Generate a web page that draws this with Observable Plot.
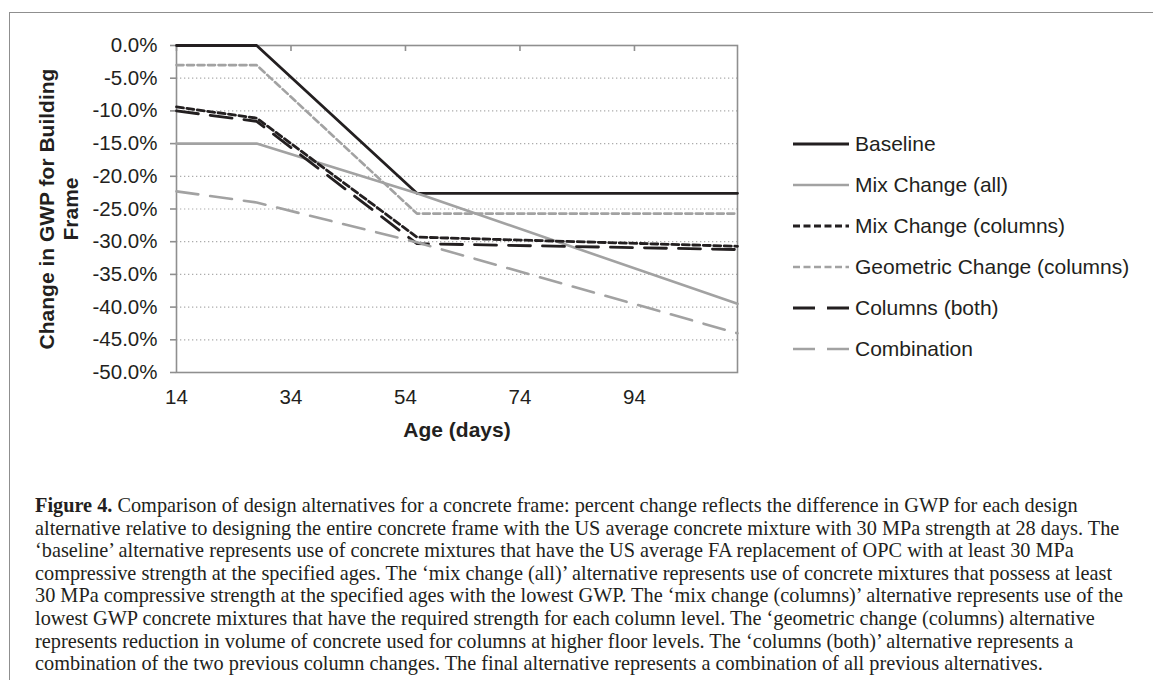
<!DOCTYPE html>
<html>
<head>
<meta charset="utf-8">
<script src="https://cdn.jsdelivr.net/npm/d3@7"></script>
<script src="https://cdn.jsdelivr.net/npm/@observablehq/plot@0.6"></script>
<style>
  html, body { margin: 0; padding: 0; background: #fff; }
  #page { position: relative; width: 1153px; height: 680px; overflow: hidden; background: #fff; }
  #frame { position: absolute; left: 9px; top: 12px; width: 1160px; height: 700px; border-top: 1.5px solid #8f8f8f; border-left: 1.5px solid #8f8f8f; }
  #chart { position: absolute; left: 0; top: 0; }
  #legend { position: absolute; left: 0; top: 0; }
  #caption { position: absolute; left: 35px; top: 494px; font-family: "Liberation Serif", "Times New Roman", serif; font-size: 20.3px; line-height: 22.6px; color: #231f20; white-space: nowrap; }
  #caption b { font-weight: bold; }
</style>
</head>
<body>
<div id="page">
  <div id="frame"></div>
  <div id="chart"></div>
  <svg id="legend" width="1153" height="420"></svg>
  <div id="caption"></div>
</div>
<script>
// ---- data ----
const days = [14, 28, 56, 112];
const seriesNames = ["Baseline", "Mix Change (all)", "Mix Change (columns)", "Geometric Change (columns)", "Columns (both)", "Combination"];
const baseline     = [0, 0, -22.6, -22.6];
const mixAll       = [-15.0, -15.0, -22.6, -39.5];
const mixColumns   = [-9.4, -11.1, -29.3, -30.7];
const geometric    = [-3.0, -3.0, -25.7, -25.7];
const columnsBoth  = [-10.0, -11.6, -30.3, -31.2];
const combination  = [-22.3, -24.0, -30.1, -44.0];
const xTicks = [14, 34, 54, 74, 94];
const yTicks = [0, -5, -10, -15, -20, -25, -30, -35, -40, -45, -50];
const yLabel = "Change in GWP for Building\nFrame";
const xLabel = "Age (days)";

const seriesValues = [baseline, mixAll, mixColumns, geometric, columnsBoth, combination];
const BLACK = "#231f20", GREY = "#a2a2a2";
const seriesStyle = [
  {stroke: BLACK, dash: null, width: 2.8},
  {stroke: GREY, dash: null, width: 2.6},
  {stroke: BLACK, dash: "7,3.5", width: 2.8},
  {stroke: GREY, dash: "7,3.5", width: 2.6},
  {stroke: BLACK, dash: "22,12", width: 2.8},
  {stroke: GREY, dash: "22,12", width: 2.6}
];

const rows = seriesNames.map((name, i) => days.map((d, j) => ({series: name, day: d, value: seriesValues[i][j]})));

const W = 760, H = 450, ML = 176, MR = 23, MT = 45, MB = 78;
const plotH = H - MT - MB;
const FONT = "'Liberation Sans', Arial, sans-serif";

const chart = Plot.plot({
  width: W, height: H,
  marginLeft: ML, marginRight: MR, marginTop: MT, marginBottom: MB,
  x: {domain: [14, 112]},
  y: {domain: [-50, 0]},
  style: {fontFamily: FONT, fontSize: "20.5px", color: "#231f20", background: "transparent", overflow: "visible"},
  marks: [
    Plot.gridY(yTicks.filter(d => d > -50 && d < 0), {stroke: "#acacac", strokeOpacity: 1, strokeWidth: 1.2, strokeDasharray: "1.3,2.7"}),
    Plot.frame({stroke: "#8f8f8f", strokeWidth: 1.6}),
    Plot.axisY({ticks: yTicks, tickSize: 6, tickPadding: 13, tickFormat: d => d.toFixed(1) + "%", stroke: "#8f8f8f", strokeWidth: 1.6, label: null, fontSize: 20.5}),
    Plot.axisX({ticks: xTicks, anchor: "bottom", tickSize: 0, tickPadding: 17, tickFormat: d => String(d), label: null, fontSize: 20.5}),
    Plot.ruleX(xTicks, {x: d => d, insetBottom: plotH - 6, stroke: "#8f8f8f", strokeWidth: 1.6}),
    ...rows.map((r, i) => Plot.line(r, {
      x: "day", y: "value",
      stroke: seriesStyle[i].stroke,
      strokeWidth: seriesStyle[i].width,
      strokeDasharray: seriesStyle[i].dash || undefined,
      strokeLinejoin: "round"
    })),
    Plot.text([yLabel], {text: d => d, frameAnchor: "left", textAnchor: "middle", dx: -118.5, rotate: -90, fontWeight: "bold", fontSize: 21, lineHeight: 1.19, fill: "#231f20"}),
    Plot.text([xLabel], {text: d => d, frameAnchor: "bottom", dy: 64, fontWeight: "bold", fontSize: 21, fill: "#231f20"})
  ]
});
document.getElementById("chart").appendChild(chart);

// ---- legend ----
const leg = d3.select("#legend");
const legX0 = 793, legX1 = 849, legTextX = 855, legY0 = 144, legStep = 41;
seriesNames.forEach((name, i) => {
  const y = legY0 + i * legStep;
  leg.append("line")
    .attr("x1", legX0).attr("x2", legX1).attr("y1", y).attr("y2", y)
    .attr("stroke", seriesStyle[i].stroke).attr("stroke-width", seriesStyle[i].width)
    .attr("stroke-dasharray", seriesStyle[i].dash);
  leg.append("text")
    .attr("x", legTextX).attr("y", y).attr("dy", "0.35em")
    .attr("font-family", FONT).attr("font-size", 21)
    .attr("fill", "#231f20")
    .text(name);
});

// ---- caption ----
const captionLines = [
  "<b>Figure 4.</b> Comparison of design alternatives for a concrete frame: percent change reflects the difference in GWP for each design",
  "alternative relative to designing the entire concrete frame with the US average concrete mixture with 30 MPa strength at 28 days. The",
  "\u2018baseline\u2019 alternative represents use of concrete mixtures that have the US average FA replacement of OPC with at least 30 MPa",
  "compressive strength at the specified ages. The \u2018mix change (all)\u2019 alternative represents use of concrete mixtures that possess at least",
  "30 MPa compressive strength at the specified ages with the lowest GWP. The \u2018mix change (columns)\u2019 alternative represents use of the",
  "lowest GWP concrete mixtures that have the required strength for each column level. The \u2018geometric change (columns) alternative",
  "represents reduction in volume of concrete used for columns at higher floor levels. The \u2018columns (both)\u2019 alternative represents a",
  "combination of the two previous column changes. The final alternative represents a combination of all previous alternatives."
];
document.getElementById("caption").innerHTML = captionLines.join("<br>");
</script>
</body>
</html>
